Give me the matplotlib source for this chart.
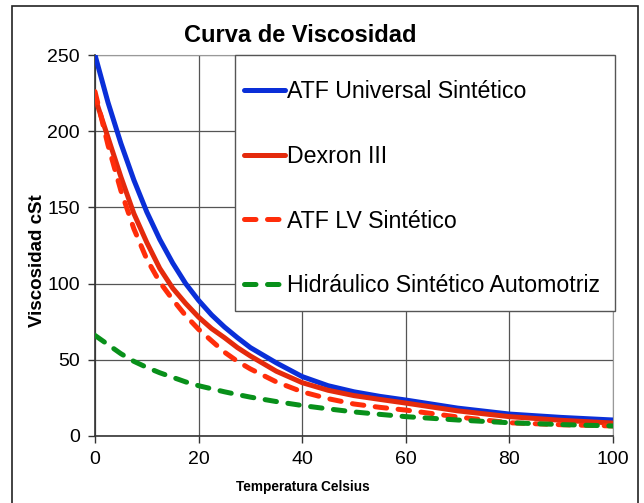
import matplotlib
matplotlib.use("Agg")
import matplotlib.pyplot as plt
from matplotlib.patches import Rectangle

plt.rcParams['font.family'] = ['Liberation Sans', 'DejaVu Sans']

temps = [0, 2.5, 5, 7.5, 10, 12.5, 15, 17.5, 20, 22.5, 25, 27.5, 30,
         35, 40, 45, 50, 55, 60, 70, 80, 90, 100]
atf_universal = [250, 219, 192, 168, 147, 129, 113.5, 100, 89, 79.5, 71.5, 64.5, 58,
                 48, 39, 33, 29, 26, 23.6, 18.3, 14.4, 12.2, 10.5]
dexron = [222, 196, 170, 146, 127, 110, 97, 87, 78, 70.5, 64.5, 58, 52.5,
          42.5, 35, 30, 26.5, 24, 21.6, 16.5, 12.7, 10.3, 8.5]
atf_lv = [226, 191, 161, 136, 116, 101, 89.5, 79, 70, 62.5, 55, 49, 44,
          35.5, 29, 24.5, 21, 18.8, 17, 12.5, 8.7, 7.4, 6.6]
hidraulico = [66, 60, 54, 49, 45, 41.5, 38.5, 35.5, 33, 31, 29, 27.2, 25.5,
              22.6, 20, 17.8, 15.8, 14.2, 12.7, 10.5, 8.7, 7.5, 6.6]

series_names = ["ATF Universal Sintético", "Dexron III", "ATF LV Sintético",
                "Hidráulico Sintético Automotriz"]
x_ticks = [0, 20, 40, 60, 80, 100]
y_ticks = [0, 50, 100, 150, 200, 250]

fig = plt.figure(figsize=(6.44, 5.03), dpi=100)
ax = fig.add_axes([95/644, 1-436/503, (613-95)/644, (436-55)/503])

dash = (0, (2.3, 2.3))
ax.plot(temps, atf_universal, color='#0a2fd8', lw=3.6, solid_capstyle='round', label=series_names[0], zorder=3)
ax.plot(temps, dexron, color='#e42a0c', lw=3.6, solid_capstyle='round', label=series_names[1], zorder=3.1)
ax.plot(temps, atf_lv, color='#ff2d0a', lw=3.6, ls=dash, dash_capstyle='round', label=series_names[2], zorder=3.2)
ax.plot(temps, hidraulico, color='#08901a', lw=3.6, ls=dash, dash_capstyle='round', label=series_names[3], zorder=3.3)

ax.set_xlim(0, 100)
ax.set_ylim(0, 250)
ax.set_xticks(x_ticks)
ax.set_yticks(y_ticks)
ax.tick_params(axis='both', labelsize=14, direction='out', length=5, width=1, color='#333333', pad=6)
ax.grid(True, color='#555555', lw=0.9)
ax.set_axisbelow(True)
for s in ['top', 'right']:
    ax.spines[s].set_color('#999999')
for s in ['left', 'bottom']:
    ax.spines[s].set_color('#333333')
    ax.spines[s].set_linewidth(1.2)

# legend box
ax.add_patch(Rectangle(((235-95)/518, (436-311)/381), 380/518, 256/381,
                       transform=ax.transAxes, facecolor='white', edgecolor='#555555',
                       lw=1.0, zorder=5, clip_on=False))
leg = ax.legend(loc='upper left', bbox_to_anchor=((244-95)/518, (436-80)/381), fontsize=16.7,
                frameon=False, borderaxespad=0, borderpad=0, handlelength=1.77,
                handletextpad=0.1, labelspacing=1.8)
leg.set_zorder(6)

fig.text(300/644, 1-35/503, "Curva de Viscosidad", fontsize=17, fontweight='bold',
         ha='center', va='center')
fig.text(303/644, 1-487/503, "Temperatura Celsius", fontsize=9.8, fontweight='bold',
         ha='center', va='center')
fig.text(38/644, 1-261/503, "Viscosidad cSt", fontsize=13.5, fontweight='bold',
         ha='center', va='center', rotation=90)

fig.patches.append(Rectangle((12/644, -0.05), (638-12)/644, 1.05-6/503,
                             transform=fig.transFigure, fill=False,
                             edgecolor='#222222', lw=1.2))

fig.savefig("out.png", dpi=100)
